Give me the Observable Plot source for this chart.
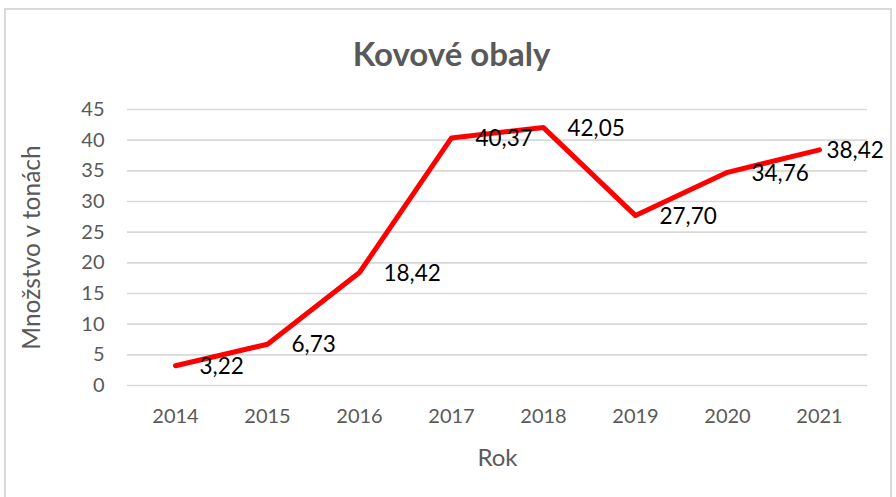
<!DOCTYPE html>
<html>
<head>
<meta charset="utf-8">
<script src="https://cdn.jsdelivr.net/npm/d3@7"></script>
<script src="https://cdn.jsdelivr.net/npm/@observablehq/plot@0.6"></script>
<style>
  html, body { margin: 0; padding: 0; background: #fff; }
  #wrap { position: relative; width: 896px; height: 497px; overflow: hidden; }
  #border { position: absolute; left: 4px; top: 8px; width: 888px; height: 500px; border: 2px solid #d9d9d9; box-sizing: border-box; pointer-events: none; }
  #chart { position: absolute; left: 0; top: 0; }
</style>
</head>
<body>
<div id="wrap"><div id="chart"></div><div id="border"></div></div>
<script>
const title = "Kovové obaly";
const xLabel = "Rok";
const yLabel = "Množstvo v tonách";
const years = ["2014", "2015", "2016", "2017", "2018", "2019", "2020", "2021"];
const values = [3.22, 6.73, 18.42, 40.37, 42.05, 27.70, 34.76, 38.42];
const yTicks = [0, 5, 10, 15, 20, 25, 30, 35, 40, 45];

const data = years.map((y, i) => ({year: y, value: values[i]}));
const inner = data.slice(0, -1);
const last = data.slice(-1);
const fmt = v => v.toFixed(2).replace(".", ",");
const font = "Lato, 'Open Sans', sans-serif";

const chart = Plot.plot({
  width: 896,
  height: 497,
  marginLeft: 127,
  marginRight: 29,
  marginTop: 109,
  marginBottom: 112,
  style: {fontFamily: font, background: "transparent"},
  x: {type: "point", domain: years, padding: 0.5},
  y: {domain: [0, 45]},
  marks: [
    Plot.gridY(yTicks, {stroke: "#d9d9d9", strokeOpacity: 1, strokeWidth: 1.6}),
    Plot.axisY(yTicks, {tickSize: 0, tickPadding: 23, fontSize: 20, fill: "#595959", label: null}),
    Plot.axisX(years, {tickSize: 0, tickPadding: 23, fontSize: 20, fill: "#595959", label: null}),
    Plot.line(data, {x: "year", y: "value", stroke: "#ff0000", strokeWidth: 5, strokeLinejoin: "round", strokeLinecap: "round"}),
    Plot.text(inner, {x: "year", y: "value", text: d => fmt(d.value), textAnchor: "start", dx: 24, dy: 1, fontSize: 22.5, fill: "#000"}),
    Plot.text(last, {x: "year", y: "value", text: d => fmt(d.value), textAnchor: "start", dx: 7, dy: 1, fontSize: 22.5, fill: "#000"}),
    Plot.text([title], {frameAnchor: "top", lineAnchor: "middle", dx: -46, dy: -54, fontSize: 33, fontWeight: "bold", fill: "#595959"}),
    Plot.text([xLabel], {frameAnchor: "bottom", lineAnchor: "middle", dy: 73, fontSize: 24, fill: "#595959"}),
    Plot.text([yLabel], {frameAnchor: "left", textAnchor: "middle", lineAnchor: "middle", dx: -95, rotate: -90, fontSize: 24.5, fill: "#595959"})
  ]
});
document.getElementById("chart").appendChild(chart);
</script>
</body>
</html>
